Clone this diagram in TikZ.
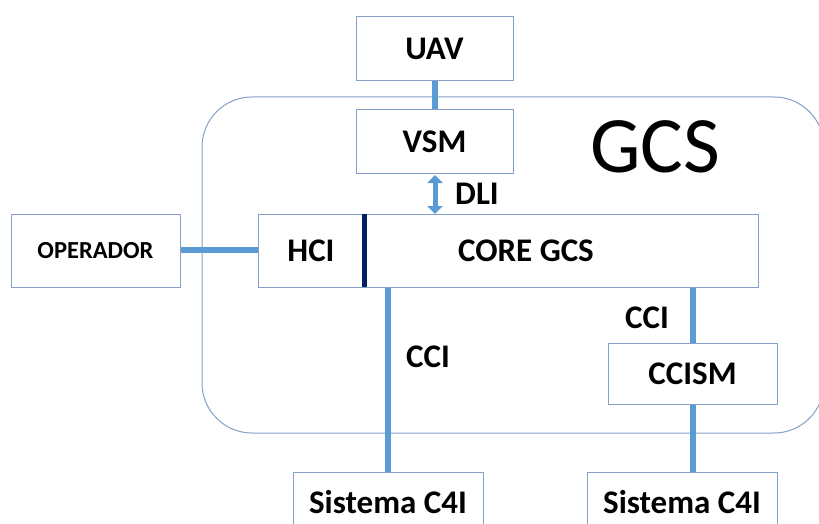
\documentclass[tikz,border=0pt]{standalone}
\usepackage{fontspec}
\setmainfont{Carlito}
\usetikzlibrary{arrows.meta}
\definecolor{boxline}{RGB}{132,160,200}
\definecolor{linkblue}{RGB}{91,155,213}
\definecolor{navy}{RGB}{0,32,96}
\tikzset{
  block/.style={draw=boxline, line width=1pt, fill=white, inner sep=0pt,
    font=\bfseries\fontsize{33}{35}\selectfont, text=black},
  link/.style={draw=linkblue, line width=5.5pt},
  lbl/.style={font=\bfseries\fontsize{33}{35}\selectfont, text=black, inner sep=0pt}
}
\begin{document}
\begin{tikzpicture}[x=1pt,y=-1pt]
\useasboundingbox (0,0) rectangle (819,524);
% GCS enclosure (right side runs off the page)
\draw[boxline, line width=1pt, rounded corners=50pt] (202,97) rectangle (824,433);
\node[font=\fontsize{80}{82}\selectfont, inner sep=0pt] (gcs) at (655,147) {GCS};

% connectors
\coordinate (uavb) at (435,81);
\coordinate (vsmt) at (435,110);
\draw[link] (uavb) -- (vsmt);
\coordinate (dlitop) at (435,175);
\coordinate (dlibot) at (435,214);
\draw[draw=linkblue, line width=5pt,
  {Triangle[width=15pt,length=8pt]}-{Triangle[width=15pt,length=8pt]}] (dlitop) -- (dlibot);
\node[lbl] (dli) at (477,194) {DLI};

\coordinate (opr) at (180,250);
\coordinate (hcil) at (258,250);
\draw[link] (opr) -- (hcil);

\coordinate (cciL1) at (388,287);
\coordinate (cciL2) at (388,472);
\draw[link] (cciL1) -- (cciL2);
\node[lbl] (ccil) at (428,357) {CCI};

\coordinate (cciR1) at (693,287);
\coordinate (cciR2) at (693,344);
\draw[link] (cciR1) -- (cciR2);
\node[lbl] (ccir) at (647,318) {CCI};
\coordinate (cciR3) at (693,404);
\coordinate (cciR4) at (693,472);
\draw[link] (cciR3) -- (cciR4);

% boxes
\node[block, minimum width=157pt, minimum height=64pt] (uav) at (434.5,49) {UAV};
\node[block, minimum width=157pt, minimum height=63pt] (vsm) at (434.5,141.5) {VSM};
\node[block, minimum width=500pt, minimum height=73pt] (core) at (508,250.5) {};
\node[lbl] (hci) at (311,251) {HCI};
\node[lbl] (coretxt) at (526,251) {CORE GCS};
\coordinate (divt) at (364,214);
\coordinate (divb) at (364,287);
\draw[navy, line width=5pt] (divt) -- (divb);
\node[block, minimum width=169pt, minimum height=73pt,
  font=\bfseries\fontsize{24.5}{26}\selectfont] (oper) at (95.5,250.5) {OPERADOR};
\node[block, minimum width=169pt, minimum height=61pt] (ccism) at (692.5,374) {CCISM};
\node[block, minimum width=190pt, minimum height=80pt, anchor=north] (c4ia) at (388,472) {};
\node[lbl] (c4iatxt) at (388,502) {Sistema C4I};
\node[block, minimum width=190pt, minimum height=80pt, anchor=north] (c4ib) at (682,472) {};
\node[lbl] (c4ibtxt) at (682,502) {Sistema C4I};
\end{tikzpicture}
\end{document}
